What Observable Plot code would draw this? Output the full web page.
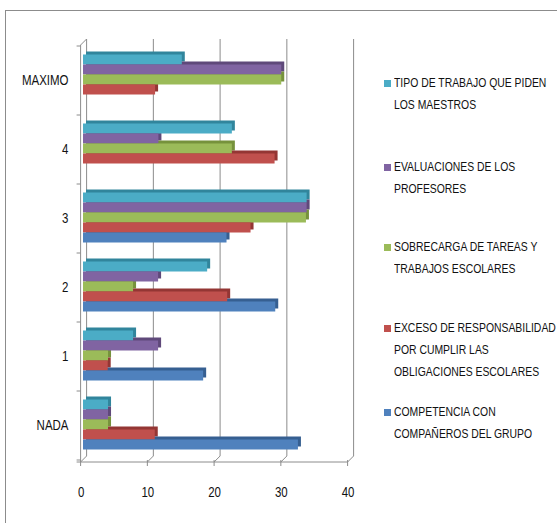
<!DOCTYPE html>
<html>
<head>
<meta charset="utf-8">
<script src="https://cdn.jsdelivr.net/npm/d3@7"></script>
<script src="https://cdn.jsdelivr.net/npm/@observablehq/plot@0.6"></script>
<style>
  html, body { margin: 0; padding: 0; background: #fff; }
  #wrap { position: relative; width: 557px; height: 523px; overflow: hidden; font-family: "Liberation Sans", Arial, sans-serif; }
  #border { position: absolute; left: 5px; top: 10px; width: 600px; height: 600px; border-left: 1px solid #8c8c8c; border-top: 1px solid #8c8c8c; }
  #chart { position: absolute; left: 0; top: 0; }
  .leg { position: absolute; left: 384px; width: 170px; }
  .leg .sw { position: absolute; left: 0; top: 8px; width: 7px; height: 7px; }
  .leg .txt { position: absolute; left: 10px; top: 0; font-size: 13px; line-height: 22px; color: #111; transform: scaleX(0.8); transform-origin: 0 0; white-space: nowrap; }
  .leg .txt span { display: block; }
</style>
</head>
<body>
<div id="wrap">
  <div id="border"></div>
  <div id="chart"></div>
</div>
<script>
const categories = ["MAXIMO", "4", "3", "2", "1", "NADA"];
const seriesNames = [
  "TIPO DE TRABAJO QUE PIDEN LOS MAESTROS",
  "EVALUACIONES DE LOS PROFESORES",
  "SOBRECARGA DE TAREAS Y TRABAJOS ESCOLARES",
  "EXCESO DE RESPONSABILIDAD POR CUMPLIR LAS OBLIGACIONES ESCOLARES",
  "COMPETENCIA CON COMPAÑEROS DEL GRUPO"
];
const legendLines = [
  ["TIPO DE TRABAJO QUE PIDEN", "LOS MAESTROS"],
  ["EVALUACIONES DE LOS", "PROFESORES"],
  ["SOBRECARGA DE TAREAS Y", "TRABAJOS ESCOLARES"],
  ["EXCESO DE RESPONSABILIDAD", "POR CUMPLIR LAS", "OBLIGACIONES ESCOLARES"],
  ["COMPETENCIA CON", "COMPAÑEROS DEL GRUPO"]
];
const tipoTrabajo   = [14.8, 22.3, 33.5, 18.6, 7.5, 3.75];
const evaluaciones  = [29.7, 11.3, 33.5, 11.25, 11.25, 3.75];
const sobrecarga    = [29.7, 22.3, 33.4, 7.5, 3.75, 3.75];
const exceso        = [10.8, 28.7, 25.1, 21.6, 3.7, 10.75];
const competencia   = [0, 0, 21.5, 28.8, 18.0, 32.2];
const xTicks = [0, 10, 20, 30, 40];

const colors = ["#4bacc6", "#8064a2", "#9bbb59", "#c0504d", "#4f81bd"];
const darkColors = ["#31859c", "#5f497a", "#76923c", "#943634", "#365f91"];

const seriesValues = [tipoTrabajo, evaluaciones, sobrecarga, exceso, competencia];
const data = [];
seriesValues.forEach((vals, si) => {
  vals.forEach((v, ci) => {
    data.push({series: seriesNames[si], category: categories[ci], value: v, si});
  });
});

const font = '"Liberation Sans", Arial, sans-serif';

const plot = Plot.plot({
  width: 557,
  height: 523,
  marginLeft: 83,
  marginRight: 207,
  marginTop: 45,
  marginBottom: 61,
  style: {fontFamily: font, background: "transparent", overflow: "visible"},
  x: {domain: [0, 40], axis: null},
  y: {domain: seriesNames, padding: 0, axis: null},
  fy: {domain: categories, paddingInner: 0.23, paddingOuter: 0.115, axis: null},
  marks: [
    Plot.barX(data, {x: "value", y: "series", fy: "category", fill: d => darkColors[d.si], dx: 3, dy: -4.5, inset: 0}),
    Plot.barX(data, {x: "value", y: "series", fy: "category", fill: d => colors[d.si], dy: -1.5, inset: 0}),
    Plot.axisFy({anchor: "left", tickSize: 0, tickPadding: 15, fontSize: 14, label: null, fill: "#111"}),
    Plot.axisX({ticks: xTicks, tickSize: 0, tickPadding: 35, fontSize: 14, dx: -2.4, label: null, fill: "#111"})
  ]
});
document.getElementById("chart").appendChild(plot);

const svg = d3.select(plot);
// narrow the axis label glyphs (Calibri-like look)
svg.selectAll("[aria-label^='fy-axis'] text, [aria-label^='x-axis'] text").each(function() {
  const t = this.getAttribute("transform") || "";
  this.setAttribute("transform", t + " scale(0.82,1)");
});

// 3D frame decorations using the plot's scales
const xs = plot.scale("x");
const fys = plot.scale("fy");
const yTop = 45, yBottom = 462, depth = 6, frontDx = -2.4;
const g = svg.insert("g", "g").attr("stroke", "#8c8c8c").attr("stroke-width", 1).attr("fill", "none");
xTicks.forEach(t => {
  const fx = xs.apply(t) + frontDx;
  const bx = fx + depth;
  g.append("line").attr("x1", bx).attr("x2", bx).attr("y1", yTop - depth).attr("y2", yBottom - depth);
  g.append("line").attr("x1", fx).attr("x2", bx).attr("y1", yBottom).attr("y2", yBottom - depth);
  g.append("line").attr("x1", fx).attr("x2", fx).attr("y1", yBottom - 2).attr("y2", yBottom + 4);
});
const g2 = svg.append("g").attr("stroke", "#8c8c8c").attr("stroke-width", 1).attr("fill", "none");
const x0 = xs.apply(0) + frontDx;
g2.append("line").attr("x1", x0).attr("x2", x0).attr("y1", yTop).attr("y2", yBottom);
g2.append("line").attr("x1", x0).attr("x2", x0 + depth).attr("y1", yTop).attr("y2", yTop - depth);
g2.append("line").attr("x1", x0 - 4).attr("x2", xs.apply(40) + frontDx).attr("y1", yBottom).attr("y2", yBottom);
const gap = (fys.step - fys.bandwidth) / 2;
const bounds = categories.map(c => fys.apply(c) - gap).concat([fys.apply(categories[categories.length - 1]) + fys.bandwidth + gap]);
bounds.forEach(b => {
  g2.append("line").attr("x1", x0 - 4).attr("x2", x0).attr("y1", b).attr("y2", b);
});

// legend
const legendTops = [72, 156, 236, 317, 401];
const wrap = document.getElementById("wrap");
legendLines.forEach((lines, i) => {
  const div = document.createElement("div");
  div.className = "leg";
  div.style.top = legendTops[i] + "px";
  const sw = document.createElement("span");
  sw.className = "sw";
  sw.style.background = colors[i];
  div.appendChild(sw);
  const txt = document.createElement("div");
  txt.className = "txt";
  lines.forEach(l => {
    const s = document.createElement("span");
    s.textContent = l;
    txt.appendChild(s);
  });
  div.appendChild(txt);
  wrap.appendChild(div);
});
</script>
</body>
</html>
